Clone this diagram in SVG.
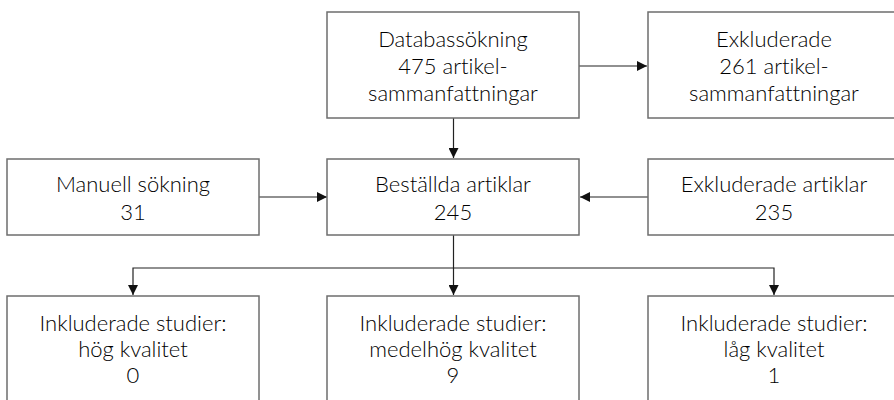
<svg xmlns="http://www.w3.org/2000/svg" width="894" height="400" viewBox="0 0 894 400">
<style>
.box{fill:#fff;stroke:#6e6e6e;stroke-width:1.5}
.t{font-family:Lato,"Open Sans","Liberation Sans",sans-serif;font-size:22px;font-weight:300;fill:#000;text-anchor:middle;font-variant-ligatures:none;font-feature-settings:"liga" 0}
.c{fill:none;stroke:#222;stroke-width:1.2}
</style>
<defs>
<marker id="ah" viewBox="0 0 10 10" refX="10" refY="5" markerWidth="10" markerHeight="10" markerUnits="userSpaceOnUse" orient="auto">
<path d="M0,0 L10,5 L0,10 z" fill="#111"/>
</marker>
</defs>
<rect width="894" height="400" fill="#fff"/>
<g id="connectors">
<line class="c" x1="453.5" y1="118" x2="453.5" y2="158" marker-end="url(#ah)"/>
<line class="c" x1="579" y1="66" x2="647" y2="66" marker-end="url(#ah)"/>
<line class="c" x1="259" y1="197" x2="327" y2="197" marker-end="url(#ah)"/>
<line class="c" x1="648" y1="197" x2="580" y2="197" marker-end="url(#ah)"/>
<line class="c" x1="453.5" y1="235" x2="453.5" y2="295" marker-end="url(#ah)"/>
<polyline class="c" points="453.5,268 133,268 133,295" marker-end="url(#ah)"/>
<polyline class="c" points="453.5,268 774,268 774,295" marker-end="url(#ah)"/>
</g>
<g id="n-databas">
<rect class="box" x="327" y="12" width="252" height="106"/>
<text class="t" x="453" y="47">Databassökning</text>
<text class="t" x="453" y="74">475 artikel-</text>
<text class="t" x="453" y="101">sammanfattningar</text>
</g>
<g id="n-exkl1">
<rect class="box" x="648" y="12" width="252" height="106"/>
<text class="t" x="774" y="47">Exkluderade</text>
<text class="t" x="774" y="74">261 artikel-</text>
<text class="t" x="774" y="101">sammanfattningar</text>
</g>
<g id="n-manuell">
<rect class="box" x="7" y="159" width="252" height="76"/>
<text class="t" x="133" y="192">Manuell sökning</text>
<text class="t" x="133" y="220">31</text>
</g>
<g id="n-bestallda">
<rect class="box" x="327" y="159" width="252" height="76"/>
<text class="t" x="453" y="192">Beställda artiklar</text>
<text class="t" x="453" y="220">245</text>
</g>
<g id="n-exkl2">
<rect class="box" x="648" y="159" width="252" height="76"/>
<text class="t" x="774" y="192">Exkluderade artiklar</text>
<text class="t" x="774" y="220">235</text>
</g>
<g id="n-hog">
<rect class="box" x="7" y="296" width="252" height="110"/>
<text class="t" x="133" y="331">Inkluderade studier:</text>
<text class="t" x="133" y="357">hög kvalitet</text>
<text class="t" x="133" y="383">0</text>
</g>
<g id="n-medel">
<rect class="box" x="327" y="296" width="252" height="110"/>
<text class="t" x="453" y="331">Inkluderade studier:</text>
<text class="t" x="453" y="357">medelhög kvalitet</text>
<text class="t" x="453" y="383">9</text>
</g>
<g id="n-lag">
<rect class="box" x="648" y="296" width="252" height="110"/>
<text class="t" x="774" y="331">Inkluderade studier:</text>
<text class="t" x="774" y="357">låg kvalitet</text>
<text class="t" x="774" y="383">1</text>
</g>
</svg>
